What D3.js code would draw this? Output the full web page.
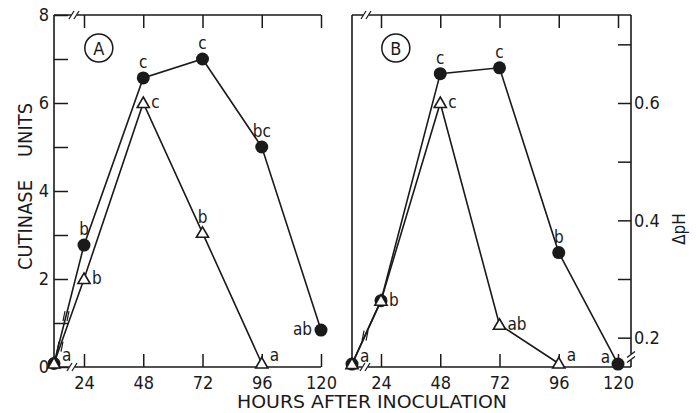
<!DOCTYPE html>
<html>
<head>
<meta charset="utf-8">
<script src="https://cdn.jsdelivr.net/npm/d3@7"></script>
<style>
  body { margin: 0; background: #fff; }
  text { font-family: "DejaVu Sans Condensed", "Liberation Sans Narrow", "DejaVu Sans", sans-serif; fill: #1a1a1a; }
</style>
</head>
<body>
<script>
// Hours after inoculation
const hours = [0, 24, 48, 72, 96, 120];
const hoursOpen = [0, 24, 48, 72, 96];
const hourTicks = [24, 48, 72, 96, 120];

// Panel A: cutinase units
const cutinaseFilled = [0.08, 2.77, 6.57, 7.0, 5.0, 0.84];
const cutinaseOpen = [0.08, 2.0, 6.0, 3.05, 0.08];
const cutinaseTicks = [0, 1, 2, 3, 4, 5, 6, 7, 8];
const cutinaseLabels = [0, 2, 4, 6, 8];

// Panel B: delta pH
const phFilled = [0.155, 0.263, 0.65, 0.66, 0.345, 0.155];
const phOpen = [0.155, 0.263, 0.60, 0.222, 0.156];
const phTicks = [0.2, 0.3, 0.4, 0.5, 0.6, 0.7];
const phLabels = ["0.2", "0.4", "0.6"];

// Significance letters and where they sit relative to the marker
const lettersAFilled = ["a", "b", "c", "c", "bc", "ab"];
const placeAFilled = ["upright", "above", "above", "above", "above", "left"];
const lettersAOpen = ["", "b", "c", "b", "a"];
const placeAOpen = ["", "right", "right", "above", "upright"];
const lettersBFilled = ["a", "", "c", "c", "b", "a"];
const placeBFilled = ["upright", "", "above", "above", "above", "upleft"];
const lettersBOpen = ["", "b", "c", "ab", "a"];
const placeBOpen = ["", "right", "right", "right", "upright"];

const ink = "#1a1a1a";
const width = 696, height = 413;
const plotTop = 15, plotBottom = 367;

const svg = d3.select("body").append("svg")
    .attr("width", width)
    .attr("height", height);

// broken x axis: 0 sits on the left axis, 24..120 evenly spaced
const xA = d3.scaleLinear().domain([0, 24, 120]).range([54, 84, 321]);
const xB = d3.scaleLinear().domain([0, 24, 120]).range([352, 381, 618]);
const yA = d3.scaleLinear().domain([0, 8]).range([plotBottom, plotTop]);
const yB = d3.scaleLinear().domain([0.15, 0.75]).range([plotBottom, plotTop]);

const offsets = {
    above:   {dx: 0,  dy: -10, anchor: "middle"},
    right:   {dx: 8,  dy: 5,   anchor: "start"},
    left:    {dx: -9, dy: 5,   anchor: "end"},
    upright: {dx: 8,  dy: -2,  anchor: "start"},
    upleft:  {dx: -8, dy: -1,  anchor: "end"}
};

const frameLine = (x1, y1, x2, y2) =>
    svg.append("line")
        .attr("x1", x1).attr("y1", y1).attr("x2", x2).attr("y2", y2)
        .attr("stroke", ink).attr("stroke-width", 1.6);

// "//" break marks on an axis
const axisBreak = (x, y, vertical) => {
    const g = svg.append("g").attr("transform", "translate(" + x + "," + y + ")");
    if (vertical) {
        g.append("rect").attr("x", -2).attr("y", -3).attr("width", 4).attr("height", 6).attr("fill", "#fff");
        [-2.5, 2.5].forEach(o => g.append("line")
            .attr("x1", -4).attr("y1", o + 3).attr("x2", 4).attr("y2", o - 3)
            .attr("stroke", ink).attr("stroke-width", 1.3));
    } else {
        g.append("rect").attr("x", -3).attr("y", -2).attr("width", 6).attr("height", 4).attr("fill", "#fff");
        [-2.5, 2.5].forEach(o => g.append("line")
            .attr("x1", o - 2.5).attr("y1", 4).attr("x2", o + 2.5).attr("y2", -4)
            .attr("stroke", ink).attr("stroke-width", 1.3));
    }
};

// break marks drawn across the 0 -> 24 h segment
const segmentBreak = (x, y, t, xs, ys) => {
    const px = x(xs[0]) + t * (x(xs[1]) - x(xs[0]));
    const py = y(ys[0]) + t * (y(ys[1]) - y(ys[0]));
    [-2, 2].forEach(o => svg.append("line")
        .attr("x1", px + o - 1).attr("y1", py + 5)
        .attr("x2", px + o + 1).attr("y2", py - 5)
        .attr("stroke", ink).attr("stroke-width", 1.2));
};

const line = (x, y) => d3.line().x(d => x(d[0])).y(d => y(d[1]));

const drawSeries = (x, y, xs, ys) => {
    const pts = xs.map((h, i) => [h, ys[i]]);
    svg.append("path")
        .attr("d", line(x, y)(pts))
        .attr("fill", "none")
        .attr("stroke", ink)
        .attr("stroke-width", 1.6);
    return pts;
};

const drawCircles = (x, y, pts) =>
    svg.append("g").selectAll("circle")
        .data(pts)
        .join("circle")
        .attr("cx", d => x(d[0]))
        .attr("cy", d => y(d[1]))
        .attr("r", 6.5)
        .attr("fill", ink);

const drawTriangles = (x, y, pts) =>
    svg.append("g").selectAll("path")
        .data(pts)
        .join("path")
        .attr("d", d3.symbol(d3.symbolTriangle).size(64))
        .attr("transform", d => "translate(" + x(d[0]) + "," + (y(d[1]) + 1) + ")")
        .attr("fill", "#fff")
        .attr("stroke", ink)
        .attr("stroke-width", 1.6);

const drawLetters = (x, y, pts, letters, places) =>
    pts.forEach((d, i) => {
        if (!letters[i]) return;
        const o = offsets[places[i]];
        svg.append("text")
            .attr("x", x(d[0]) + o.dx)
            .attr("y", y(d[1]) + o.dy)
            .attr("text-anchor", o.anchor)
            .attr("font-size", 17)
            .text(letters[i]);
    });

const styleAxis = g => {
    g.select(".domain").remove();
    g.selectAll(".tick line").attr("stroke", ink).attr("stroke-width", 1.5);
    g.selectAll(".tick text").attr("fill", ink).attr("font-size", 18)
        .attr("font-family", "\"DejaVu Sans Condensed\", \"Liberation Sans Narrow\", \"DejaVu Sans\", sans-serif");
};

// ---- Panel A ----
frameLine(xA(0), plotTop, xA(0), plotBottom);
frameLine(xA(0), plotTop, xA(120), plotTop);
frameLine(xA(0), plotBottom, xA(120), plotBottom);

svg.append("g")
    .attr("transform", "translate(0," + plotBottom + ")")
    .call(d3.axisBottom(xA).tickValues(hourTicks).tickSize(-13).tickPadding(9))
    .call(styleAxis);
svg.append("g")
    .attr("transform", "translate(0," + plotTop + ")")
    .call(d3.axisTop(xA).tickValues(hourTicks).tickSize(-13).tickFormat(""))
    .call(styleAxis);
svg.append("g")
    .attr("transform", "translate(" + xA(0) + ",0)")
    .call(d3.axisLeft(yA).tickValues(cutinaseTicks).tickSize(-14).tickPadding(5)
        .tickFormat(d => cutinaseLabels.includes(d) ? d : ""))
    .call(styleAxis);

axisBreak(74, plotTop, false);
axisBreak(72, plotBottom, false);

const ptsAF = drawSeries(xA, yA, hours, cutinaseFilled);
const ptsAO = drawSeries(xA, yA, hoursOpen, cutinaseOpen);
segmentBreak(xA, yA, 0.4, hours, cutinaseFilled);
segmentBreak(xA, yA, 0.2, hoursOpen, cutinaseOpen);
drawCircles(xA, yA, ptsAF);
drawTriangles(xA, yA, ptsAO);
drawLetters(xA, yA, ptsAF, lettersAFilled, placeAFilled);
drawLetters(xA, yA, ptsAO, lettersAOpen, placeAOpen);

// ---- Panel B ----
const rightB = xB(120) + 13;
frameLine(xB(0), plotTop, xB(0), plotBottom);
frameLine(xB(0), plotTop, rightB, plotTop);
frameLine(xB(0), plotBottom, rightB, plotBottom);
frameLine(rightB, plotTop, rightB, plotBottom);

svg.append("g")
    .attr("transform", "translate(0," + plotBottom + ")")
    .call(d3.axisBottom(xB).tickValues(hourTicks).tickSize(-13).tickPadding(9))
    .call(styleAxis);
svg.append("g")
    .attr("transform", "translate(0," + plotTop + ")")
    .call(d3.axisTop(xB).tickValues(hourTicks).tickSize(-13).tickFormat(""))
    .call(styleAxis);
svg.append("g")
    .attr("transform", "translate(" + rightB + ",0)")
    .call(d3.axisRight(yB).tickValues(phTicks).tickSize(-13).tickPadding(3)
        .tickFormat(d => phLabels.includes(d3.format(".1f")(d)) ? d3.format(".1f")(d) : ""))
    .call(styleAxis);

axisBreak(366, plotTop, false);
axisBreak(365, plotBottom, false);
axisBreak(rightB, 357, true);

const ptsBF = drawSeries(xB, yB, hours, phFilled);
const ptsBO = drawSeries(xB, yB, hoursOpen, phOpen);
segmentBreak(xB, yB, 0.45, hours, phFilled);
drawCircles(xB, yB, ptsBF);
drawTriangles(xB, yB, ptsBO);
drawLetters(xB, yB, ptsBF, lettersBFilled, placeBFilled);
drawLetters(xB, yB, ptsBO, lettersBOpen, placeBOpen);

// ---- panel tags ----
[["A", xA(30)], ["B", xB(30)]].forEach(([tag, cx]) => {
    const cy = yA(7.25);
    svg.append("circle").attr("cx", cx).attr("cy", cy).attr("r", 14)
        .attr("fill", "none").attr("stroke", ink).attr("stroke-width", 1.5);
    svg.append("text").attr("x", cx).attr("y", cy + 6.5)
        .attr("text-anchor", "middle").attr("font-size", 18).text(tag);
});

// ---- axis titles ----
svg.append("text")
    .attr("x", 372).attr("y", 408)
    .attr("text-anchor", "middle")
    .attr("font-size", 17)
    .attr("textLength", 270).attr("lengthAdjust", "spacingAndGlyphs")
    .text("HOURS AFTER INOCULATION");

svg.append("text")
    .attr("transform", "translate(32,225) rotate(-90)")
    .attr("text-anchor", "middle")
    .attr("font-size", 19)
    .attr("textLength", 90).attr("lengthAdjust", "spacingAndGlyphs")
    .text("CUTINASE");
svg.append("text")
    .attr("transform", "translate(32,130) rotate(-90)")
    .attr("text-anchor", "middle")
    .attr("font-size", 19)
    .attr("textLength", 54).attr("lengthAdjust", "spacingAndGlyphs")
    .text("UNITS");

svg.append("text")
    .attr("transform", "translate(685,229) rotate(-90)")
    .attr("text-anchor", "middle")
    .attr("font-size", 17)
    .text("ΔpH");
</script>
</body>
</html>
